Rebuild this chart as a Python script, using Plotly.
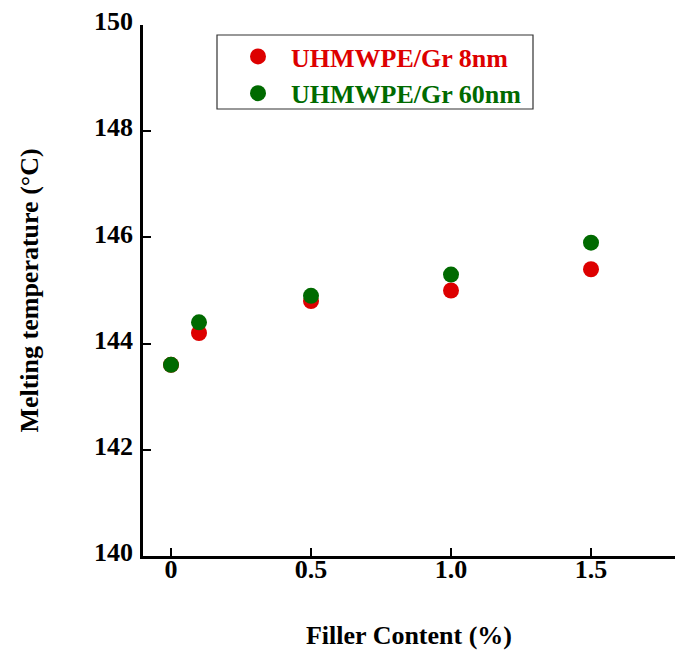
import plotly.graph_objects as go

filler = [0, 0.1, 0.5, 1.0, 1.5]
tm_8nm = [143.6, 144.2, 144.8, 145.0, 145.4]
tm_60nm = [143.6, 144.4, 144.9, 145.3, 145.9]
series_names = ["UHMWPE/Gr 8nm", "UHMWPE/Gr 60nm"]
x_ticks = [0, 0.5, 1.0, 1.5]
x_ticklabels = ["0", "0.5", "1.0", "1.5"]
y_ticks = [140, 142, 144, 146, 148, 150]

RED = "#dd0000"
GREEN = "#006a00"
FONT = "Liberation Serif, Times New Roman, serif"

W, H = 684, 650
ML, MR, MT, MB = 143, 9, 25, 94
PW, PH = W - ML - MR, H - MT - MB


def px_to_paper_x(px):
    return (px - ML) / PW


def px_to_paper_y(py):
    return (H - MB - py) / PH


fig = go.Figure()
fig.add_trace(go.Scatter(
    x=filler, y=tm_8nm, mode="markers",
    name=f"<span style='color:{RED}'><b>{series_names[0]}</b></span>",
    marker=dict(color=RED, size=16),
))
fig.add_trace(go.Scatter(
    x=filler, y=tm_60nm, mode="markers",
    name=f"<span style='color:{GREEN}'><b>{series_names[1]}</b></span>",
    marker=dict(color=GREEN, size=16),
))

# legend frame
fig.add_shape(
    type="rect", xref="paper", yref="paper",
    x0=px_to_paper_x(217), x1=px_to_paper_x(533),
    y0=px_to_paper_y(109), y1=px_to_paper_y(35),
    line=dict(color="#333333", width=1.2), fillcolor="rgba(0,0,0,0)",
)

fig.update_layout(
    width=W, height=H,
    margin=dict(l=ML, r=MR, t=MT, b=MB),
    plot_bgcolor="white", paper_bgcolor="white",
    font=dict(family=FONT, size=25, color="black"),
    showlegend=True,
    legend=dict(
        x=px_to_paper_x(225), y=px_to_paper_y(33), xanchor="left", yanchor="top",
        borderwidth=0, bgcolor="rgba(0,0,0,0)",
        font=dict(family=FONT, size=26),
        itemwidth=56, tracegroupgap=0,
    ),
    xaxis=dict(
        range=[-0.1, 1.8],
        tickvals=x_ticks, ticktext=[f"<b>{t}</b>" for t in x_ticklabels],
        ticks="inside", ticklen=8, tickwidth=2, tickcolor="black",
        tickfont=dict(size=26), ticklabelstandoff=-12,
        showline=True, linecolor="black", linewidth=2.5,
        showgrid=False, zeroline=False, automargin=False,
        title=dict(text="<b>Filler Content (%)</b>", standoff=54, font=dict(size=26)),
    ),
    yaxis=dict(
        range=[140, 150],
        tickvals=y_ticks, ticktext=[f"<b>{t}</b>" for t in y_ticks],
        ticks="inside", ticklen=8, tickwidth=2, tickcolor="black",
        tickfont=dict(size=26), ticklabelshift=-4, ticklabelstandoff=2,
        showline=True, linecolor="black", linewidth=2.5,
        showgrid=False, zeroline=False, automargin=False,
        title=dict(text="<b>Melting temperature (°C)</b>", standoff=48, font=dict(size=26)),
    ),
)

fig.write_html("out.html", config={"displayModeBar": False},
               post_script="document.body.style.margin='0';")
